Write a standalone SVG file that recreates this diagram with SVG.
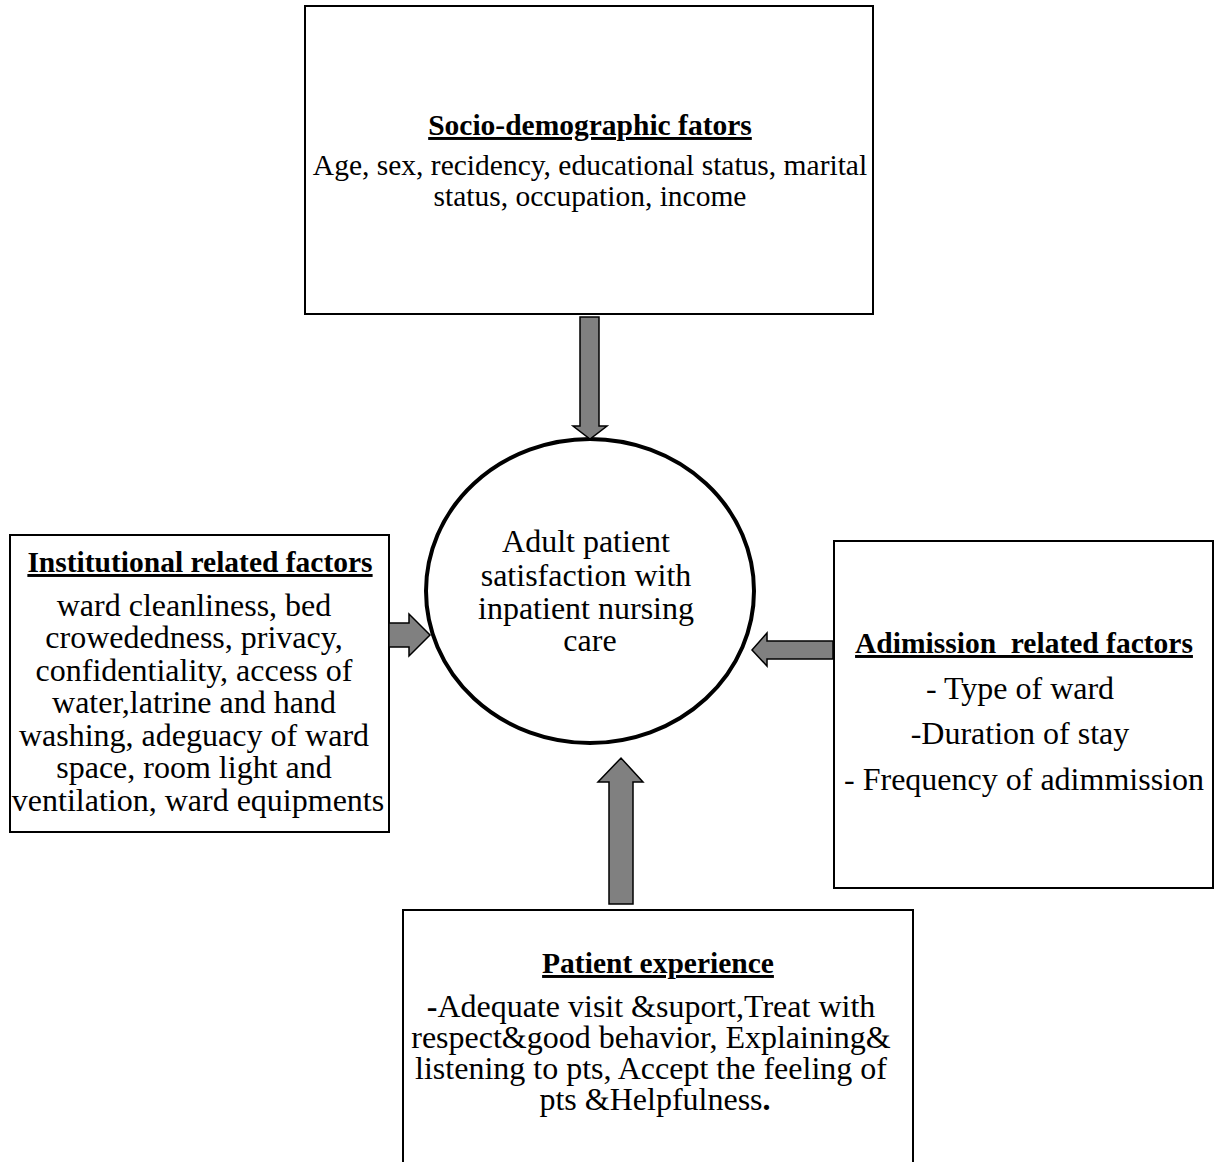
<svg xmlns="http://www.w3.org/2000/svg" width="1214" height="1162" viewBox="0 0 1214 1162">
<style>
.box{fill:#fff;stroke:#000;stroke-width:2}
.t{font-family:"Liberation Serif","Times New Roman",serif;fill:#000;text-anchor:middle}
.h{font-weight:bold;text-decoration:underline;font-size:29.5px}
.b{font-size:32px}
.arrow{fill:#808080;stroke:#000;stroke-width:1.5;stroke-linejoin:miter}
</style>
<rect width="1214" height="1162" fill="#fff"/>
<g id="socio">
<rect class="box" x="305" y="6" width="568" height="308"/>
<text class="t h" x="590" y="135">Socio-demographic fators</text>
<text class="t" x="590" y="175" font-size="29.5">Age, sex, recidency, educational status, marital</text>
<text class="t" x="590" y="206" font-size="29.5">status, occupation, income</text>
</g>
<g id="institutional">
<rect class="box" x="10" y="535" width="379" height="297"/>
<text class="t h" x="200" y="572">Institutional related factors</text>
<text class="t b">
<tspan x="198" y="616">ward cleanliness, bed</tspan>
<tspan x="198" y="648">crowededness, privacy,</tspan>
<tspan x="198" y="681">confidentiality, access of</tspan>
<tspan x="198" y="713">water,latrine and hand</tspan>
<tspan x="198" y="746">washing, adeguacy of ward</tspan>
<tspan x="198" y="778">space, room light and</tspan>
<tspan x="198" y="811">ventilation, ward equipments</tspan>
</text>
</g>
<g id="admission">
<rect class="box" x="834" y="541" width="379" height="347"/>
<text class="t h" x="1024" y="653" xml:space="preserve">Adimission  related factors</text>
<text class="t b">
<tspan x="1024" y="699">- Type of ward</tspan>
<tspan x="1024" y="744">-Duration of stay</tspan>
<tspan x="1024" y="790">- Frequency of adimmission</tspan>
</text>
</g>
<g id="patient">
<path class="box" d="M403,1162 V910 H913 V1162"/>
<text class="t h" x="658" y="973">Patient experience</text>
<text class="t b">
<tspan x="655" y="1017"><tspan font-weight="bold">-</tspan>Adequate visit &amp;suport,Treat with</tspan>
<tspan x="655" y="1048">respect&amp;good behavior, Explaining&amp;</tspan>
<tspan x="655" y="1079">listening to pts, Accept the feeling of</tspan>
<tspan x="655" y="1110">pts &amp;Helpfulness<tspan font-weight="bold">.</tspan></tspan>
</text>
</g>
<g id="outcome">
<ellipse cx="590" cy="591" rx="164" ry="152" fill="#fff" stroke="#000" stroke-width="4"/>
<text class="t b">
<tspan x="590" y="552">Adult patient</tspan>
<tspan x="590" y="586">satisfaction with</tspan>
<tspan x="590" y="619">inpatient nursing</tspan>
<tspan x="590" y="651">care</tspan>
</text>
</g>
<g id="connectors">
<polygon class="arrow" points="580,317 599,317 599,426 607,426 590,439 573,426 580,426"/>
<polygon class="arrow" points="389,623 409,623 409,614 430,635 409,656 409,647 389,647"/>
<polygon class="arrow" points="833,641 767,641 767,633 752,650 767,666 767,659 833,659"/>
<polygon class="arrow" points="609,904 609,782 598,782 621,758 643,782 633,782 633,904"/>
</g>
</svg>
